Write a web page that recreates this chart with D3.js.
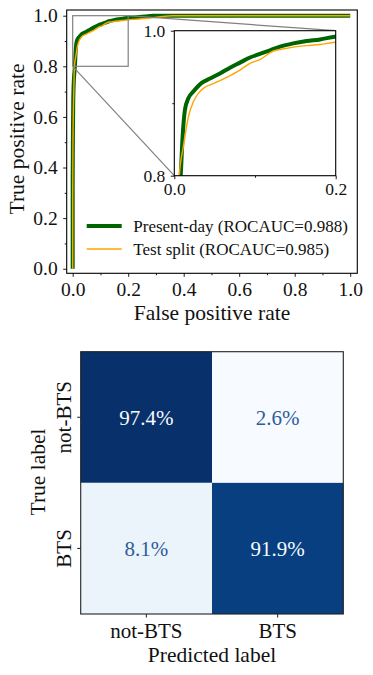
<!DOCTYPE html>
<html>
<head>
<meta charset="utf-8">
<script src="https://cdn.jsdelivr.net/npm/d3@7"></script>
<style>
body { margin: 0; background: #fff; }
svg { display: block; font-family: "Liberation Serif", serif; }
.axis path.domain { display: none; }
.axis line { stroke: #000; stroke-width: 0.9; }
</style>
</head>
<body>
<svg width="373" height="675"></svg>
<script>
// ROC curves, points
var presentFpr = [0, 0, 0.001, 0.002, 0.004, 0.0065, 0.0079, 0.0103, 0.0132, 0.0174, 0.0236, 0.0339, 0.0442, 0.0566, 0.069, 0.0814, 0.0938, 0.106, 0.1186, 0.131, 0.1475, 0.164, 0.1806, 0.199, 0.23, 0.26, 0.29, 1.0];
var presentTpr = [0, 0.35, 0.55, 0.66, 0.74, 0.78, 0.8, 0.854, 0.891, 0.9067, 0.916, 0.928, 0.934, 0.941, 0.949, 0.956, 0.963, 0.968, 0.973, 0.978, 0.9825, 0.9857, 0.988, 0.9917, 0.994, 0.997, 1.0, 1.0];
var testFpr = [0, 0, 0.001, 0.0025, 0.0045, 0.0062, 0.0112, 0.0174, 0.0236, 0.0298, 0.036, 0.0483, 0.0649, 0.0814, 0.0938, 0.106, 0.1227, 0.139, 0.16, 0.1806, 0.199, 0.23, 0.27, 0.31, 0.36, 1.0];
var testTpr = [0, 0.3, 0.5, 0.63, 0.73, 0.8, 0.84, 0.881, 0.902, 0.9136, 0.9205, 0.927, 0.9356, 0.9457, 0.955, 0.96, 0.972, 0.9756, 0.979, 0.981, 0.984, 0.986, 0.99, 0.995, 1.0, 1.0];
var seriesNames = ["Present-day (ROCAUC=0.988)", "Test split (ROCAUC=0.985)"];
var rocTicks = [0, 0.2, 0.4, 0.6, 0.8, 1.0];
var rocMinorTicks = [0.1, 0.3, 0.5, 0.7, 0.9];
var insetXTicks = [0, 0.2];
var insetYTicks = [0.8, 1.0];

// Confusion matrix in percent, rows = true label, cols = predicted
var classes = ["not-BTS", "BTS"];
var cmValues = [[97.4, 2.6], [8.1, 91.9]];

var svg = d3.select("svg");
var fmt = d3.format(".1f");

var series = [
	{ name: seriesNames[0], color: "#006400", width: 4, pts: d3.zip(presentFpr, presentTpr) },
	{ name: seriesNames[1], color: "#ffa500", width: 1.4, pts: d3.zip(testFpr, testTpr) }
];

// axis text styling (d3 puts sans-serif on the group)
function styleTicks(size) {
	return (g) => g.attr("font-family", null).attr("font-size", size)
		.selectAll("text").attr("fill", "#111");
}

/* ROC plot */
var x = d3.scaleLinear().domain([-0.0216, 1.0256]).range([66.7, 357.3]);
var y = d3.scaleLinear().domain([-0.018, 1.0225]).range([273.3, 10]);

svg.append("clipPath").attr("id", "clip-main")
	.append("rect").attr("x", 66.7).attr("y", 10).attr("width", 290.6).attr("height", 263.3);

var line = d3.line().curve(d3.curveMonotoneX).x((d) => x(d[0])).y((d) => y(d[1]));

svg.append("g").attr("clip-path", "url(#clip-main)")
	.selectAll("path")
	.data(series)
	.enter().append("path")
	.attr("d", (d) => line(d.pts))
	.attr("fill", "none")
	.attr("stroke", (d) => d.color)
	.attr("stroke-width", (d) => d.width)
	.attr("stroke-linejoin", "round");

// zoom indicator + connectors
var ix = d3.scaleLinear().domain([0, 0.2]).range([174.3, 335.7]);
var iy = d3.scaleLinear().domain([0.8, 1.0]).range([175.7, 30.7]);

var ind = svg.append("g").attr("stroke", "#808080").attr("stroke-width", 1.2).attr("fill", "none");
ind.append("rect")
	.attr("x", x(0)).attr("y", y(1.0))
	.attr("width", x(0.2) - x(0)).attr("height", y(0.8) - y(1.0));
ind.append("line")
	.attr("x1", x(0)).attr("y1", y(0.8)).attr("x2", ix(0)).attr("y2", iy(0.8));
ind.append("line")
	.attr("x1", x(0.2)).attr("y1", y(1.0)).attr("x2", ix(0.2)).attr("y2", iy(1.0));

// main axes
svg.append("g").attr("class", "axis")
	.attr("transform", "translate(0,273.3)")
	.call(d3.axisBottom(x).tickValues(rocTicks).tickSize(3.5).tickPadding(5).tickFormat(fmt))
	.call(styleTicks(19.5));
svg.append("g").attr("class", "axis")
	.attr("transform", "translate(0,273.3)")
	.call(d3.axisBottom(x).tickValues(rocMinorTicks).tickSize(2).tickFormat(""));
svg.append("g").attr("class", "axis")
	.attr("transform", "translate(66.7,0)")
	.call(d3.axisLeft(y).tickValues(rocTicks).tickSize(3.5).tickPadding(5.5).tickFormat(fmt))
	.call(styleTicks(19.5));
svg.append("g").attr("class", "axis")
	.attr("transform", "translate(66.7,0)")
	.call(d3.axisLeft(y).tickValues(rocMinorTicks).tickSize(2).tickFormat(""));

svg.append("rect")
	.attr("x", 66.7).attr("y", 10).attr("width", 290.6).attr("height", 263.3)
	.attr("fill", "none").attr("stroke", "#000").attr("stroke-width", 1.1);

svg.append("text")
	.attr("x", 212).attr("y", 320)
	.attr("text-anchor", "middle").attr("font-size", 21.5).attr("fill", "#111")
	.text("False positive rate");
svg.append("text")
	.attr("transform", "translate(24,139) rotate(-90)")
	.attr("text-anchor", "middle").attr("font-size", 21.5).attr("fill", "#111")
	.text("True positive rate");

/* Inset */
svg.append("clipPath").attr("id", "clip-inset")
	.append("rect").attr("x", 174.3).attr("y", 30.7).attr("width", 161.4).attr("height", 145);

svg.append("rect")
	.attr("x", 174.3).attr("y", 30.7).attr("width", 161.4).attr("height", 145)
	.attr("fill", "#fff");

var iline = d3.line().curve(d3.curveMonotoneX).x((d) => ix(d[0])).y((d) => iy(d[1]));
svg.append("g").attr("clip-path", "url(#clip-inset)")
	.selectAll("path")
	.data(series)
	.enter().append("path")
	.attr("d", (d) => iline(d.pts))
	.attr("fill", "none")
	.attr("stroke", (d) => d.color)
	.attr("stroke-width", (d) => d.width)
	.attr("stroke-linejoin", "round");

svg.append("g").attr("class", "axis")
	.attr("transform", "translate(0,175.7)")
	.call(d3.axisBottom(ix).tickValues(insetXTicks).tickSize(3.5).tickPadding(3).tickFormat(fmt))
	.call(styleTicks(17.5));
svg.append("g").attr("class", "axis")
	.attr("transform", "translate(0,175.7)")
	.call(d3.axisBottom(ix).tickValues([0.1]).tickSize(2).tickFormat(""));
svg.append("g").attr("class", "axis")
	.attr("transform", "translate(174.3,0)")
	.call(d3.axisLeft(iy).tickValues(insetYTicks).tickSize(3.5).tickPadding(5.5).tickFormat(fmt))
	.call(styleTicks(17.5));
svg.append("g").attr("class", "axis")
	.attr("transform", "translate(174.3,0)")
	.call(d3.axisLeft(iy).tickValues([0.9]).tickSize(2).tickFormat(""));

svg.append("rect")
	.attr("x", 174.3).attr("y", 30.7).attr("width", 161.4).attr("height", 145)
	.attr("fill", "none").attr("stroke", "#000").attr("stroke-width", 1.1);

/* Legend */
var legend = svg.append("g").selectAll("g")
	.data(series)
	.enter().append("g")
	.attr("transform", (d, i) => "translate(86.7," + (226 + i * 23) + ")");
legend.append("line")
	.attr("x1", 0).attr("x2", 35)
	.attr("stroke", (d) => d.color)
	.attr("stroke-width", (d) => d.width);
legend.append("text")
	.attr("x", 46.6).attr("dy", "0.33em")
	.attr("font-size", 17).attr("fill", "#111")
	.text((d) => d.name);

/* Confusion matrix */
var cx = d3.scaleBand().domain(classes).range([80.7, 343.3]);
var cy = d3.scaleBand().domain(classes).range([351.7, 614]);
var flat = [];
cmValues.forEach((row, i) => {
	row.forEach((v, j) => { flat.push({ t: classes[i], p: classes[j], v: v }); });
});
var vmin = d3.min(flat, (d) => d.v), vmax = d3.max(flat, (d) => d.v);
var blues = d3.scaleSequential(d3.interpolateBlues).domain([vmin, vmax]);
var thresh = (vmin + vmax) / 2;

var cell = svg.append("g").selectAll("g")
	.data(flat)
	.enter().append("g");
cell.append("rect")
	.attr("x", (d) => cx(d.p)).attr("y", (d) => cy(d.t))
	.attr("width", cx.bandwidth()).attr("height", cy.bandwidth())
	.attr("fill", (d) => blues(d.v));
cell.append("text")
	.attr("x", (d) => cx(d.p) + cx.bandwidth() / 2)
	.attr("y", (d) => cy(d.t) + cy.bandwidth() / 2)
	.attr("dy", "0.35em")
	.attr("text-anchor", "middle")
	.attr("font-size", 21)
	.attr("fill", (d) => d.v > thresh ? "#f7fbff" : "#2f5b99")
	.text((d) => d.v.toFixed(1) + "%");

svg.append("g").attr("class", "axis")
	.attr("transform", "translate(0,614)")
	.call(d3.axisBottom(cx).tickSize(3.5).tickPadding(5.5))
	.call(styleTicks(21));
svg.append("g").attr("class", "axis")
	.attr("transform", "translate(80.7,0)")
	.call(d3.axisLeft(cy).tickSize(3.5))
	.call(styleTicks(21))
	.call((g) => g.selectAll("text")
		.attr("text-anchor", "middle").attr("dy", null)
		.attr("x", null).attr("y", -10)
		.attr("transform", "rotate(-90)"));

svg.append("rect")
	.attr("x", 80.7).attr("y", 351.7).attr("width", 262.6).attr("height", 262.3)
	.attr("fill", "none").attr("stroke", "#222").attr("stroke-width", 1.1);

svg.append("text")
	.attr("x", 212).attr("y", 661.7)
	.attr("text-anchor", "middle").attr("font-size", 21.5).attr("fill", "#111")
	.text("Predicted label");
svg.append("text")
	.attr("transform", "translate(45,472) rotate(-90)")
	.attr("text-anchor", "middle").attr("font-size", 21.5).attr("fill", "#111")
	.text("True label");
</script>
</body>
</html>
